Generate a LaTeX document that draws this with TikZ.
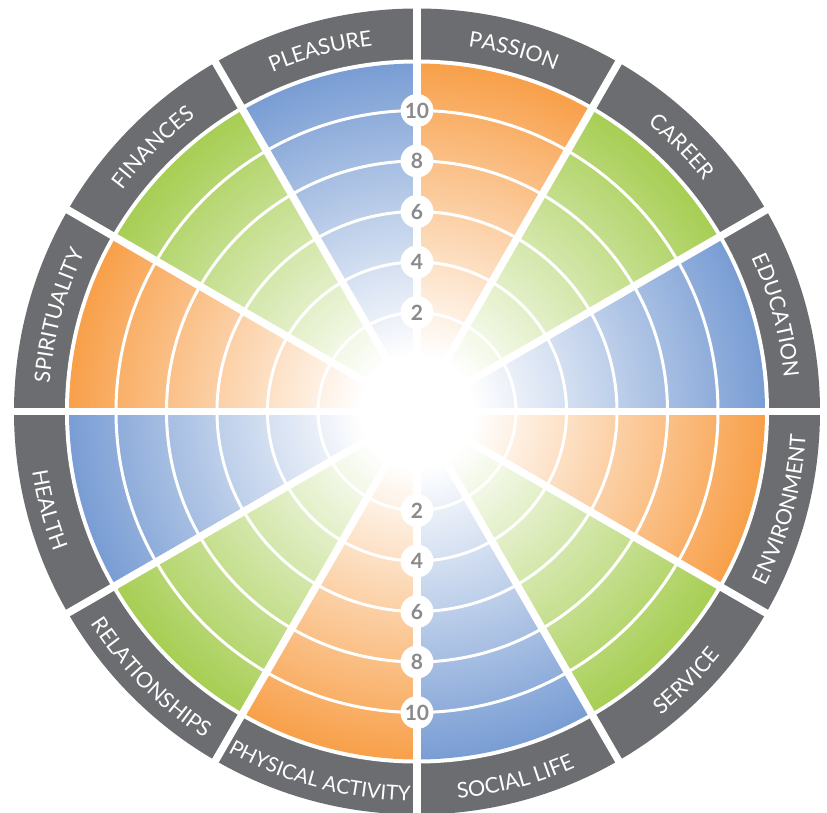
\documentclass[tikz,border=0pt]{standalone}
\usepackage{fontspec}
\setmainfont{Lato}
\usetikzlibrary{decorations.text}
\definecolor{cblue}{RGB}{121,157,212}
\definecolor{cgreen}{RGB}{167,206,84}
\definecolor{corange}{RGB}{248,160,74}
\definecolor{cgray}{RGB}{108,109,112}
\definecolor{numgray}{RGB}{138,138,140}
\pgfdeclareradialshading{wblue}{\pgfpoint{0bp}{0bp}}{color(0bp)=(white); color(4bp)=(white); color(25bp)=(cblue); color(50bp)=(cblue)}
\pgfdeclareradialshading{wgreen}{\pgfpoint{0bp}{0bp}}{color(0bp)=(white); color(4bp)=(white); color(25bp)=(cgreen); color(50bp)=(cgreen)}
\pgfdeclareradialshading{worange}{\pgfpoint{0bp}{0bp}}{color(0bp)=(white); color(4bp)=(white); color(25bp)=(corange); color(50bp)=(corange)}
\newcommand\labfont{\fontsize{21.5}{21.5}\selectfont}
\newcommand\smlabfont{\fontsize{20.5}{20.5}\selectfont}
\begin{document}
\begin{tikzpicture}[x=1pt,y=1pt,
  sepline/.style={white,line width=7.5pt},
  ringline/.style={white,line width=3pt},
  badge/.style={circle,fill=white,minimum size=33pt,inner sep=0pt,text=numgray,font=\fontsize{21}{21}\selectfont\bfseries},
  toplab/.style={decorate,decoration={text along path,text align=center,text={|\labfont\color{white}|#1}}},
  botlab/.style={decorate,decoration={text along path,text align=center,text={|\labfont\color{white}|#1}}},
  botsmlab/.style={decorate,decoration={text along path,text align=center,text={|\smlabfont\color{white}|#1}}}]
\useasboundingbox (-417,-400.5) rectangle (410,411.5);
\fill[cgray] (0,0) circle[radius=403];
\fill[white] (0,0) circle[radius=352];
\foreach \a/\s in {0/wblue,30/wgreen,60/worange,90/wblue,120/wgreen,150/worange,180/wblue,210/wgreen,240/worange,270/wblue,300/wgreen,330/worange}{
  \begin{scope}
    \clip (0,0) -- (\a:360) arc[start angle=\a,end angle=\a+30,radius=360] -- cycle;
    \shade[shading=\s] (0,0) circle[radius=348];
  \end{scope}
}
\foreach \r in {99,149.5,200,250.5,301} \draw[ringline] (0,0) circle[radius=\r];
\foreach \a in {0,30,...,330} \draw[sepline] (0,0) -- (\a:410);
% numbers
\node[badge] (t2) at (0,99) {2};
\node[badge] (t4) at (0,149.5) {4};
\node[badge] (t6) at (0,200) {6};
\node[badge] (t8) at (0,250.5) {8};
\node[badge] (t10) at (0,301) {10};
\node[badge] (b2) at (0,-99) {2};
\node[badge] (b4) at (0,-149.5) {4};
\node[badge] (b6) at (0,-200) {6};
\node[badge] (b8) at (0,-250.5) {8};
\node[badge] (b10) at (0,-301) {10};
% labels, upper half (clockwise)
\path[toplab=EDUCATION] (30:368.5) arc[start angle=30,end angle=0,radius=368.5];
\path[toplab=CAREER] (60:368.5) arc[start angle=60,end angle=30,radius=368.5];
\path[toplab=PASSION] (90:368.5) arc[start angle=90,end angle=60,radius=368.5];
\path[toplab=PLEASURE] (120:368.5) arc[start angle=120,end angle=90,radius=368.5];
\path[toplab=FINANCES] (150:368.5) arc[start angle=150,end angle=120,radius=368.5];
\path[toplab=SPIRITUALITY] (180:368.5) arc[start angle=180,end angle=150,radius=368.5];
% labels, lower half (counterclockwise)
\path[botlab=HEALTH] (180:389.5) arc[start angle=180,end angle=210,radius=389.5];
\path[botlab=RELATIONSHIPS] (210:389.5) arc[start angle=210,end angle=240,radius=389.5];
\path[botsmlab=PHYSICAL ACTIVITY] (240:389.5) arc[start angle=240,end angle=270,radius=389.5];
\path[botlab=SOCIAL LIFE] (270:389.5) arc[start angle=270,end angle=300,radius=389.5];
\path[botlab=SERVICE] (300:389.5) arc[start angle=300,end angle=330,radius=389.5];
\path[botlab=ENVIRONMENT] (330:389.5) arc[start angle=330,end angle=360,radius=389.5];
\end{tikzpicture}
\end{document}
